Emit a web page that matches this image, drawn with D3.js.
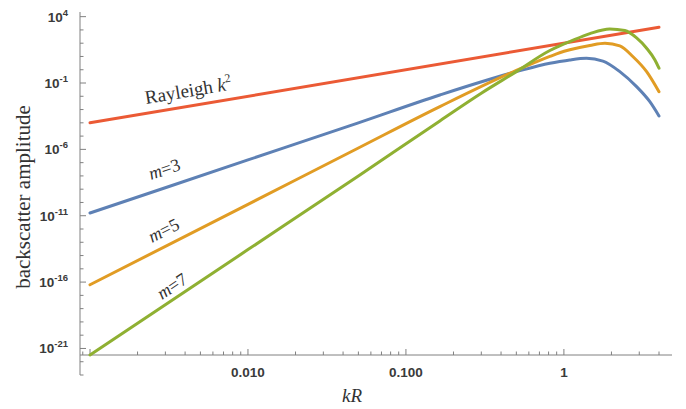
<!DOCTYPE html>
<html>
<head>
<meta charset="utf-8">
<script src="https://cdn.jsdelivr.net/npm/d3@7"></script>
<style>
  body { margin: 0; background: #fff; }
  svg { display: block; }
  .tick-label { font-family: "Liberation Sans", Arial, sans-serif; font-size: 13.5px; font-weight: bold; fill: #3a3a3a; }
  .serif { font-family: "Liberation Serif", "Times New Roman", "DejaVu Serif", serif; fill: #333; }
</style>
</head>
<body>
<div id="chart"></div>
<script>
const kRayleigh = [0.001, 4];
const ampRayleigh = [1e-4, 1600];

const kM3 = [0.001, 0.01, 0.05, 0.164, 0.5, 0.815, 0.94, 1.09, 1.39, 1.766, 2.26, 2.885, 3.5, 4];
const ampM3 = [1.6e-11, 1.6e-7, 1.0e-4, 1.26e-2, 0.72, 3.1, 4.2, 5.5, 7.2, 4.5, 0.72, 0.053, 3.9e-3, 3.3e-4];

const kM5 = [0.001, 0.01, 0.05, 0.164, 0.5, 0.815, 0.94, 1.09, 1.46, 1.82, 2.26, 2.73, 3.34, 4];
const ampM5 = [6.3e-17, 7.2e-11, 1.26e-6, 1.66e-3, 0.89, 10, 19, 32, 68, 100, 63, 10, 0.72, 0.022];

const kM7 = [0.001, 0.01, 0.05, 0.164, 0.3, 0.5, 0.815, 0.94, 1.09, 1.46, 1.95, 2.43, 2.885, 3.34, 3.77, 4];
const ampM7 = [3.2e-22, 2.8e-14, 1.0e-8, 1.4e-4, 1.7e-2, 0.72, 28, 63, 132, 525, 1175, 890, 250, 42, 5.5, 1.3];

const yTickExps = [4, -1, -6, -11, -16, -21];
const xTickValues = [0.01, 0.1, 1];
const xTickLabels = ['0.010', '0.100', '1'];

const colors = {
    blue: '#5E81B5',
    orange: '#E19C24',
    green: '#8FB032',
    red: '#EB5A35'
};

const width = 686, height = 409;
const axisX = 80, axisY = 355;

const svg = d3.select('#chart').append('svg')
    .attr('width', width)
    .attr('height', height);

const x = d3.scaleLog().domain([0.001, 4]).range([90, 659]);
const y = d3.scaleLog().domain([1e-23, Math.pow(10, 4.35)]).range([375, 12]);

const xMin = x.invert(axisX), xMax = x.invert(672);

// y axis
const yAxis = svg.append('g');
yAxis.append('line')
    .attr('x1', axisX).attr('x2', axisX)
    .attr('y1', y.range()[1]).attr('y2', y.range()[0])
    .attr('stroke', '#808080').attr('stroke-width', 1);
d3.range(-23, 5).forEach(e => {
    const major = yTickExps.includes(e);
    yAxis.append('line')
        .attr('x1', axisX).attr('x2', axisX + (major ? 6 : 3.5))
        .attr('y1', y(Math.pow(10, e))).attr('y2', y(Math.pow(10, e)))
        .attr('stroke', '#808080');
});
yTickExps.forEach(e => {
    const t = yAxis.append('text')
        .classed('tick-label', true)
        .attr('x', 68)
        .attr('y', y(Math.pow(10, e)) + 5)
        .style('text-anchor', 'end');
    t.append('tspan').text('10');
    t.append('tspan').attr('dy', -6).style('font-size', '9.5px').text(e < 0 ? '-' + (-e) : e);
});

// x axis
const xAxis = svg.append('g');
xAxis.append('line')
    .attr('x1', axisX).attr('x2', 672)
    .attr('y1', axisY).attr('y2', axisY)
    .attr('stroke', '#808080');
[0.0001, 0.001, 0.01, 0.1, 1].forEach(d => {
    d3.range(1, 10).forEach(m => {
        const v = d * m;
        if (v < xMin || v > xMax) return;
        const major = m === 1;
        xAxis.append('line')
            .attr('x1', x(v)).attr('x2', x(v))
            .attr('y1', axisY).attr('y2', axisY - (major ? 6 : 3.5))
            .attr('stroke', '#808080');
    });
});
xTickValues.forEach((v, i) => {
    xAxis.append('text')
        .classed('tick-label', true)
        .attr('x', x(v))
        .attr('y', 377)
        .style('text-anchor', 'middle')
        .text(xTickLabels[i]);
});

// axis titles
svg.append('text')
    .classed('serif', true)
    .attr('transform', 'translate(30, 197) rotate(-90)')
    .style('text-anchor', 'middle')
    .style('font-size', '21px')
    .text('backscatter amplitude');
svg.append('text')
    .classed('serif', true)
    .attr('x', 352).attr('y', 402)
    .style('text-anchor', 'middle')
    .style('font-size', '19px')
    .style('font-style', 'italic')
    .text('kR');

// curves
const line = d3.line()
    .x(d => x(d[0]))
    .y(d => y(d[1]))
    .curve(d3.curveMonotoneX);

const series = [
    { k: kRayleigh, a: ampRayleigh, color: colors.red },
    { k: kM3, a: ampM3, color: colors.blue },
    { k: kM5, a: ampM5, color: colors.orange },
    { k: kM7, a: ampM7, color: colors.green }
];
series.forEach(s => {
    svg.append('path')
        .datum(s.k.map((k, i) => [k, s.a[i]]))
        .attr('d', line)
        .attr('fill', 'none')
        .attr('stroke', s.color)
        .attr('stroke-width', 3)
        .attr('stroke-linecap', 'round');
});

// labels along the lines
function slopeAngle(k, a) {
    const dx = x(k[1]) - x(k[0]);
    const dy = y(a[1]) - y(a[0]);
    return Math.atan2(dy, dx) * 180 / Math.PI;
}

const ray = svg.append('text')
    .classed('serif', true)
    .attr('transform', `translate(146, 104) rotate(${slopeAngle(kRayleigh, ampRayleigh)})`)
    .style('font-size', '19px');
ray.append('tspan').text('Rayleigh ');
ray.append('tspan').style('font-style', 'italic').text('k');
ray.append('tspan').attr('dy', -8).style('font-size', '12px').text('2');

[
    { label: '3', pos: [151, 180], k: kM3, a: ampM3 },
    { label: '5', pos: [152, 243], k: kM5, a: ampM5 },
    { label: '7', pos: [162, 300], k: kM7, a: ampM7 }
].forEach(d => {
    const t = svg.append('text')
        .classed('serif', true)
        .attr('transform', `translate(${d.pos[0]}, ${d.pos[1]}) rotate(${slopeAngle(d.k, d.a)})`)
        .style('font-size', '18px');
    t.append('tspan').style('font-style', 'italic').text('m');
    t.append('tspan').text('=' + d.label);
});
</script>
</body>
</html>
